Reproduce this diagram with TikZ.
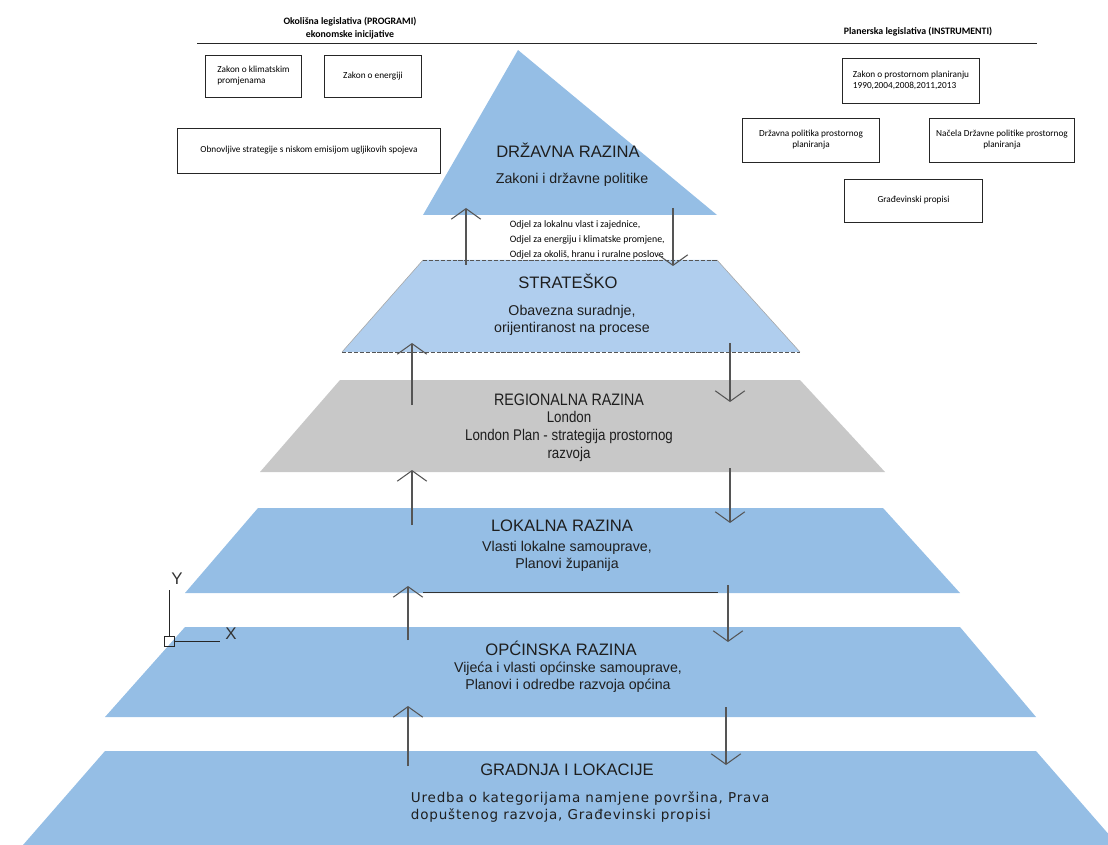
\documentclass[tikz,border=0pt]{standalone}
\usepackage{fontspec}
\setmainfont{Liberation Sans}
\newfontfamily\calfont{Carlito}
\newfontfamily\narrowfont[FakeStretch=0.86]{Liberation Sans}
\newfontfamily\cadfont[LetterSpace=6]{DejaVu Sans}
\usetikzlibrary{arrows.meta,positioning}
\definecolor{levelblue}{RGB}{149,190,229}
\definecolor{stratblue}{RGB}{176,206,238}
\definecolor{levelgray}{RGB}{200,200,200}
\definecolor{flowgray}{RGB}{85,85,85}
\definecolor{textdark}{RGB}{30,30,30}

\begin{document}
\begin{tikzpicture}[x=0.025cm,y=-0.025cm,
    lawbox/.style={draw=black!85, line width=0.6pt, inner sep=1pt, align=center,
      font=\calfont\fontsize{6.6}{7.9}\selectfont},
    head/.style={font=\calfont\bfseries\fontsize{7}{9.2}\selectfont, align=center},
    title/.style={font=\fontsize{11.8}{14}\selectfont, text=textdark},
    sub/.style={font=\fontsize{10.1}{12.2}\selectfont, text=textdark, align=center},
    flow/.style={draw=flowgray, line width=0.75pt, -{Straight Barb[length=7.5pt,width=21pt]}},
    ]
\useasboundingbox (0,0) rectangle (1108,845);

% pyramid levels
\fill[levelblue] (518,50) -- (717,215) -- (423,215) -- cycle;
\fill[stratblue] (423,260) -- (717,260) -- (800,352) -- (342,352) -- cycle;
\draw[gray!70, line width=0.4pt] (423,260) -- (342,352) (717,260) -- (800,352);
\draw[flowgray, line width=0.6pt, dash pattern=on 3pt off 1.2pt] (423,260) -- (717,260) (342,352) -- (800,352);
\fill[levelgray] (340,380) -- (800,380) -- (885,472) -- (260,472) -- cycle;
\fill[levelblue] (258,508) -- (883,508) -- (960,593) -- (185,593) -- cycle;
\fill[levelblue] (185,627) -- (960,627) -- (1036,717) -- (105,717) -- cycle;
\fill[levelblue] (105,751) -- (1036,751) -- (1118,845) -- (23,845) -- cycle;

% headers
\node[head] (envhead) at (350,28) {Okolišna legislativa (PROGRAMI)\\ekonomske inicijative};
\node[head] (planhead) at (918,32) {Planerska legislativa (INSTRUMENTI)};
\coordinate (rule-l) at (197,43);
\coordinate (rule-r) at (1037,43);
\draw[black!85, line width=0.7pt] (rule-l) -- (rule-r);

% legislation boxes
\node[lawbox, align=left, minimum width=68.7pt, minimum height=29.8pt] (climate) at (253.5,76) {Zakon o klimatskim\\promjenama};
\node[lawbox, minimum width=69.5pt, minimum height=29.8pt] (energy) at (373,76) {Zakon o energiji};
\node[lawbox, minimum width=187pt, minimum height=31.9pt] (renew) at (309,150.5) {Obnovljive strategije s niskom emisijom ugljikovih spojeva};
\node[lawbox, align=left, minimum width=97.8pt, minimum height=31.9pt] (planact) at (911,80.5) {Zakon o prostornom planiranju\\1990,2004,2008,2011,2013};
\node[lawbox, minimum width=97.8pt, minimum height=31.2pt] (natpol) at (811,140) {Državna politika prostornog\\planiranja};
\node[lawbox, minimum width=103.5pt, minimum height=31.2pt] (natprin) at (1002,140) {Načela Državne politike prostornog\\planiranja};
\node[lawbox, minimum width=98.5pt, minimum height=30.5pt] (buildreg) at (913.5,200.5) {Građevinski propisi};

% level texts
\node[title] (state) at (568,150) {DRŽAVNA RAZINA};
\node[sub] (statesub) at (572,180) {Zakoni i državne politike};
\node[anchor=west, align=left, font=\calfont\fontsize{7}{10.6}\selectfont] (depts) at (505,240)
  {Odjel za lokalnu vlast i zajednice,\\Odjel za energiju i klimatske promjene,\\Odjel za okoliš, hranu i ruralne poslove};
\node[title] (strat) at (568,281) {STRATEŠKO};
\node[sub] (stratsub) at (572,320) {Obavezna suradnje,\\orijentiranost na procese};
\node[title, font=\narrowfont\fontsize{11.8}{14}\selectfont] (region) at (569,400) {REGIONALNA RAZINA};
\node[sub, font=\narrowfont\fontsize{11}{12.8}\selectfont] (regionsub) at (569,436) {London\\London Plan - strategija prostornog\\razvoja};
\node[title] (local) at (562,526) {LOKALNA RAZINA};
\node[sub] (localsub) at (567,556) {Vlasti lokalne samouprave,\\Planovi županija};
\node[title] (munic) at (561,648) {OPĆINSKA RAZINA};
\node[sub] (municsub) at (568,677) {Vijeća i vlasti općinske samouprave,\\Planovi i odredbe razvoja općina};
\node[title] (build) at (567,770) {GRADNJA I LOKACIJE};
\node[anchor=west, align=left, text=textdark, font=\cadfont\fontsize{9.6}{12}\selectfont] (buildsub) at (406,807)
  {Uredba o kategorijama namjene površina, Prava\\dopuštenog razvoja, Građevinski propisi};

% flows between levels
\foreach \k/\ux/\uya/\uyb/\dx/\dya/\dyb in {1/466/265/208/673/208/266, 2/412/405/343/730/343/402,
    3/412/525/470/730/468/523, 4/408/640/586/728/585/642, 5/408/766/706/726/707/765}{
  \coordinate (up\k-s) at (\ux,\uya);
  \coordinate (up\k-e) at (\ux,\uyb);
  \coordinate (dn\k-s) at (\dx,\dya);
  \coordinate (dn\k-e) at (\dx,\dyb);
  \draw[flow] (up\k-s) -- (up\k-e);
  \draw[flow] (dn\k-s) -- (dn\k-e);
}
\coordinate (link-l) at (423,592);
\coordinate (link-r) at (718,592);
\draw[black!80, line width=0.7pt] (link-l) -- (link-r);

% UCS icon
\coordinate (ucs-y) at (169,590);
\coordinate (ucs-x) at (220,641);
\draw[black!85, line width=0.6pt] (ucs-y) -- (169,636) (174,641) -- (ucs-x);
\draw[black!85, line width=0.6pt] (164,636) rectangle (174,646);
\node[font=\fontsize{12}{12}\selectfont, text=black!80] (ucs-ylab) at (177,579) {Y};
\node[font=\fontsize{12}{12}\selectfont, text=black!80] (ucs-xlab) at (231,634) {X};
\end{tikzpicture}
\end{document}
